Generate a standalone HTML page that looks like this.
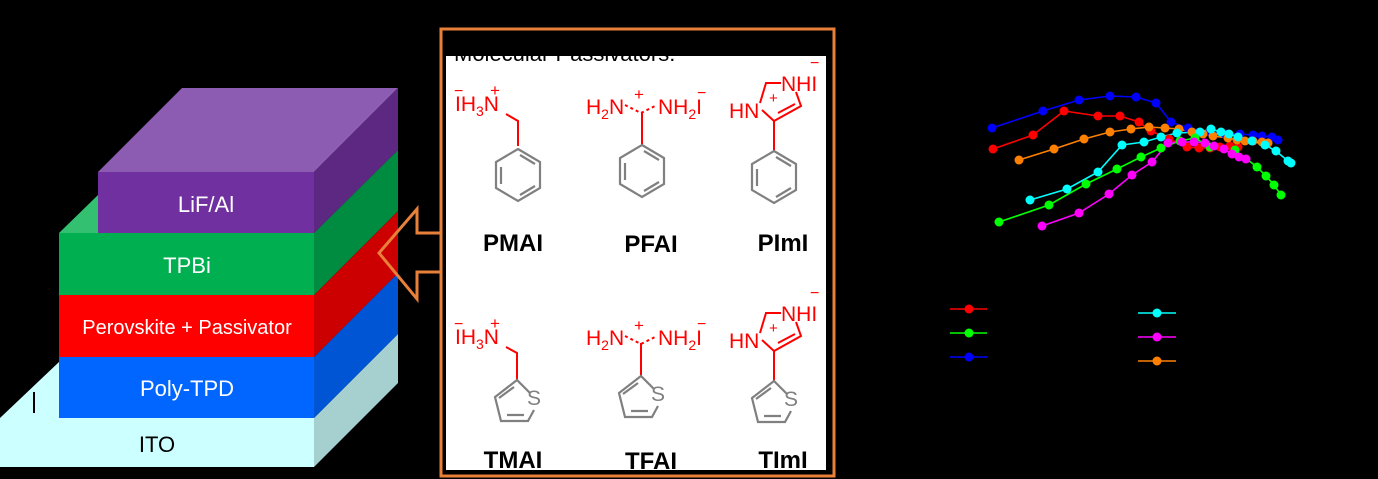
<!DOCTYPE html>
<html><head><meta charset="utf-8"><style>
html,body{margin:0;padding:0;background:#000;width:1378px;height:479px;overflow:hidden}
svg{display:block}
text{font-family:"Liberation Sans",Arial,sans-serif}
</style></head><body>
<svg width="1378" height="479" viewBox="0 0 1378 479" xmlns="http://www.w3.org/2000/svg">
<rect width="1378" height="479" fill="#000"/>
<polygon points="0,418 59,362 59,418" fill="#ccffff"/>
<polygon points="314,418 398,334 398,383 314,467" fill="#a6d0cf"/>
<rect x="0" y="418" width="314" height="49" fill="#ccffff"/>
<line x1="34" y1="392" x2="34" y2="413" stroke="#000" stroke-width="2"/>
<text x="157" y="452" font-size="22" text-anchor="middle" fill="#000">ITO</text>
<rect x="59" y="357" width="255" height="61" fill="#0066ff"/>
<polygon points="314,357 398,273 398,334 314,418" fill="#0055d4"/>
<text x="187" y="396" font-size="22" text-anchor="middle" fill="#fff">Poly-TPD</text>
<rect x="59" y="295" width="255" height="62" fill="#ff0000"/>
<polygon points="314,295 398,211 398,273 314,357" fill="#cc0000"/>
<text x="187" y="334" font-size="20" text-anchor="middle" fill="#fff">Perovskite + Passivator</text>
<rect x="59" y="233" width="255" height="62" fill="#00b050"/>
<polygon points="59,233 98,195 98,233" fill="#33c070"/>
<polygon points="314,233 398,150 398,211 314,295" fill="#008c40"/>
<text x="187" y="273" font-size="22" text-anchor="middle" fill="#fff">TPBi</text>
<polygon points="98,172 314,172 398,88 182,88" fill="#8c5cb2"/>
<rect x="98" y="172" width="216" height="61" fill="#7030a0"/>
<polygon points="314,172 398,88 398,150 314,233" fill="#5c2882"/>
<text x="206" y="212" font-size="22" text-anchor="middle" fill="#fff">LiF/Al</text>
<polygon points="441,233 417,233 417,209 379,253 417,299 417,272 441,272" fill="none" stroke="#e8803a" stroke-width="3"/>
<rect x="441" y="29" width="393" height="447" fill="#000" stroke="#e8803a" stroke-width="3"/>
<rect x="446" y="56" width="380" height="414" fill="#fff"/>
<clipPath id="c"><rect x="446" y="56" width="380" height="20"/></clipPath>
<text x="454" y="61" font-size="22" fill="#000" clip-path="url(#c)">Molecular Passivators:</text>
<g fill="#000" font-weight="bold" font-size="24" text-anchor="middle">
<text x="513" y="251">PMAI</text><text x="651" y="252">PFAI</text><text x="783" y="251">PImI</text>
<text x="513" y="468">TMAI</text><text x="651" y="469">TFAI</text><text x="783" y="468">TImI</text>
</g>
<g fill="#f00" font-size="21">
<text x="455" y="111">IH<tspan font-size="14" dy="5">3</tspan><tspan dy="-5">N</tspan></text>
<text x="454" y="96" font-size="16">−</text><text x="490" y="96" font-size="17">+</text>
<text x="586" y="114">H<tspan font-size="14" dy="5">2</tspan><tspan dy="-5">N</tspan></text>
<text x="658" y="114">NH<tspan font-size="14" dy="5">2</tspan><tspan dy="-5">I</tspan></text>
<text x="634" y="100" font-size="17">+</text><text x="697" y="98" font-size="16">−</text>
<text x="729" y="118">HN</text><text x="781" y="91">NHI</text>
<text x="769" y="103" font-size="15">+</text><text x="810" y="68" font-size="16">−</text>
</g>
<polyline points="506,114 518,121 518,146" fill="none" stroke="#f00" stroke-width="2"/>
<g fill="none" stroke="#808080" stroke-width="2.2">
<polygon points="518,149 540,162 540,188 518,201 496,188 496,162"/>
<line x1="501" y1="167" x2="501" y2="184"/><line x1="520" y1="155" x2="535" y2="164"/><line x1="520" y1="195" x2="535" y2="186"/>
</g>
<path d="M625,105 L641,113 L657,105" fill="none" stroke="#f00" stroke-width="2" stroke-dasharray="3,3"/>
<line x1="642" y1="112" x2="642" y2="145" stroke="#f00" stroke-width="2"/>
<g fill="none" stroke="#808080" stroke-width="2.2">
<polygon points="642,145 664,158 664,184 642,197 620,184 620,158"/>
<line x1="625" y1="163" x2="625" y2="180"/><line x1="644" y1="151" x2="659" y2="160"/><line x1="644" y1="191" x2="659" y2="182"/>
</g>
<polyline points="760,103 766,83 781,83" fill="none" stroke="#f00" stroke-width="2"/>
<polyline points="796,92 801,106 774,121 762,110" fill="none" stroke="#f00" stroke-width="2"/>
<line x1="778" y1="113" x2="795" y2="104" stroke="#f00" stroke-width="2"/>
<line x1="774" y1="121" x2="774" y2="151" stroke="#f00" stroke-width="2"/>
<g fill="none" stroke="#808080" stroke-width="2.2">
<polygon points="774,151 796,164 796,190 774,203 752,190 752,164"/>
<line x1="757" y1="169" x2="757" y2="186"/><line x1="776" y1="157" x2="791" y2="166"/><line x1="776" y1="197" x2="791" y2="188"/>
</g>
<g fill="#f00" font-size="21">
<text x="455" y="344">IH<tspan font-size="14" dy="5">3</tspan><tspan dy="-5">N</tspan></text>
<text x="454" y="329" font-size="16">−</text><text x="490" y="329" font-size="17">+</text>
<text x="586" y="345">H<tspan font-size="14" dy="5">2</tspan><tspan dy="-5">N</tspan></text>
<text x="658" y="345">NH<tspan font-size="14" dy="5">2</tspan><tspan dy="-5">I</tspan></text>
<text x="634" y="331" font-size="17">+</text><text x="697" y="329" font-size="16">−</text>
<text x="729" y="348">HN</text><text x="781" y="321">NHI</text>
<text x="769" y="333" font-size="15">+</text><text x="810" y="298" font-size="16">−</text>
</g>
<polyline points="506,347 517,353 517,380" fill="none" stroke="#f00" stroke-width="2"/>
<path d="M625,336 L641,344 L657,336" fill="none" stroke="#f00" stroke-width="2" stroke-dasharray="3,3"/>
<line x1="641" y1="343" x2="641" y2="376" stroke="#f00" stroke-width="2"/>
<polyline points="760,333 766,313 781,313" fill="none" stroke="#f00" stroke-width="2"/>
<polyline points="796,322 801,336 774,351 762,340" fill="none" stroke="#f00" stroke-width="2"/>
<line x1="778" y1="343" x2="795" y2="334" stroke="#f00" stroke-width="2"/>
<line x1="774" y1="351" x2="774" y2="381" stroke="#f00" stroke-width="2"/>
<g fill="none" stroke="#808080" stroke-width="2.2">
<path d="M530,393 L517,380 L495,397 L501,421 L528,421 L534,410"/><line x1="499" y1="398" x2="514" y2="387"/><line x1="507" y1="415" x2="524" y2="415"/>
<path d="M654,389 L641,376 L619,393 L625,417 L652,417 L658,406"/><line x1="623" y1="394" x2="638" y2="383"/><line x1="631" y1="411" x2="648" y2="411"/>
<path d="M787,394 L774,381 L752,398 L758,422 L785,422 L791,411"/><line x1="756" y1="399" x2="771" y2="388"/><line x1="764" y1="416" x2="781" y2="416"/>
</g>
<g fill="#808080" font-size="21"><text x="527" y="405">S</text><text x="651" y="401">S</text><text x="784" y="406">S</text></g>
<g fill="none" stroke-width="1.6">
<polyline stroke="#0000ff" points="992,128 1043,111 1079,100 1110,96 1136,97 1156,103 1171,122 1188,128 1210,132 1225,134 1240,134 1253,135 1262,136 1272,137 1278,140"/>
<polyline stroke="#ff0000" points="993,149 1033,135 1064,111 1098,116 1120,116 1139,122 1151,131 1169,139 1187,147 1199,148 1210,148 1220,147 1230,146 1238,147"/>
<polyline stroke="#ff8000" points="1019,160 1054,149 1084,139 1110,132 1131,129 1149,127 1165,128 1179,129 1192,132 1203,134 1213,136 1228,138 1237,140 1245,141 1253,141 1262,142 1268,143"/>
<polyline stroke="#00ffff" points="1030,200 1067,189 1098,172 1122,145 1144,142 1161,137 1177,133 1200,132 1211,129 1221,132 1229,134 1238,137 1252,141 1265,145 1276,151 1288,161 1291,163"/>
<polyline stroke="#00ff00" points="999,222 1049,205 1086,184 1117,169 1141,157 1161,148 1180,141 1195,138 1210,147 1235,150 1257,167 1266,176 1274,185 1281,195"/>
<polyline stroke="#ff00ff" points="1042,226 1079,213 1109,194 1132,175 1152,162 1168,143 1182,142 1194,142 1205,143 1214,146 1224,149 1232,154 1239,157 1246,159"/>
<line x1="950" y1="309" x2="987" y2="309" stroke="#ff0000"/>
<line x1="950" y1="333" x2="987" y2="333" stroke="#00ff00"/>
<line x1="950" y1="357" x2="987" y2="357" stroke="#0000ff"/>
<line x1="1138" y1="313" x2="1176" y2="313" stroke="#00ffff"/>
<line x1="1138" y1="337" x2="1176" y2="337" stroke="#ff00ff"/>
<line x1="1138" y1="361" x2="1176" y2="361" stroke="#ff8000"/>
</g>
<g fill="#0000ff"><circle cx="992" cy="128" r="4.5"/><circle cx="1043" cy="111" r="4.5"/><circle cx="1079" cy="100" r="4.5"/><circle cx="1110" cy="96" r="4.5"/><circle cx="1136" cy="97" r="4.5"/><circle cx="1156" cy="103" r="4.5"/><circle cx="1171" cy="122" r="4.5"/><circle cx="1188" cy="128" r="4.5"/><circle cx="1210" cy="132" r="4.5"/><circle cx="1225" cy="134" r="4.5"/><circle cx="1240" cy="134" r="4.5"/><circle cx="1253" cy="135" r="4.5"/><circle cx="1262" cy="136" r="4.5"/><circle cx="1272" cy="137" r="4.5"/><circle cx="1278" cy="140" r="4.5"/><circle cx="969" cy="357" r="4.5"/></g>
<g fill="#ff0000"><circle cx="993" cy="149" r="4.5"/><circle cx="1033" cy="135" r="4.5"/><circle cx="1064" cy="111" r="4.5"/><circle cx="1098" cy="116" r="4.5"/><circle cx="1120" cy="116" r="4.5"/><circle cx="1139" cy="122" r="4.5"/><circle cx="1151" cy="131" r="4.5"/><circle cx="1169" cy="139" r="4.5"/><circle cx="1187" cy="147" r="4.5"/><circle cx="1199" cy="148" r="4.5"/><circle cx="1210" cy="148" r="4.5"/><circle cx="1220" cy="147" r="4.5"/><circle cx="1230" cy="146" r="4.5"/><circle cx="1238" cy="147" r="4.5"/><circle cx="969" cy="309" r="4.5"/></g>
<g fill="#ff8000"><circle cx="1019" cy="160" r="4.5"/><circle cx="1054" cy="149" r="4.5"/><circle cx="1084" cy="139" r="4.5"/><circle cx="1110" cy="132" r="4.5"/><circle cx="1131" cy="129" r="4.5"/><circle cx="1149" cy="127" r="4.5"/><circle cx="1165" cy="128" r="4.5"/><circle cx="1179" cy="129" r="4.5"/><circle cx="1192" cy="132" r="4.5"/><circle cx="1203" cy="134" r="4.5"/><circle cx="1213" cy="136" r="4.5"/><circle cx="1228" cy="138" r="4.5"/><circle cx="1237" cy="140" r="4.5"/><circle cx="1245" cy="141" r="4.5"/><circle cx="1253" cy="141" r="4.5"/><circle cx="1262" cy="142" r="4.5"/><circle cx="1268" cy="143" r="4.5"/><circle cx="1157" cy="361" r="4.5"/></g>
<g fill="#00ffff"><circle cx="1030" cy="200" r="4.5"/><circle cx="1067" cy="189" r="4.5"/><circle cx="1098" cy="172" r="4.5"/><circle cx="1122" cy="145" r="4.5"/><circle cx="1144" cy="142" r="4.5"/><circle cx="1161" cy="137" r="4.5"/><circle cx="1177" cy="133" r="4.5"/><circle cx="1200" cy="132" r="4.5"/><circle cx="1211" cy="129" r="4.5"/><circle cx="1221" cy="132" r="4.5"/><circle cx="1229" cy="134" r="4.5"/><circle cx="1238" cy="137" r="4.5"/><circle cx="1252" cy="141" r="4.5"/><circle cx="1265" cy="145" r="4.5"/><circle cx="1276" cy="151" r="4.5"/><circle cx="1288" cy="161" r="4.5"/><circle cx="1291" cy="163" r="4.5"/><circle cx="1157" cy="313" r="4.5"/></g>
<g fill="#00ff00"><circle cx="999" cy="222" r="4.5"/><circle cx="1049" cy="205" r="4.5"/><circle cx="1086" cy="184" r="4.5"/><circle cx="1117" cy="169" r="4.5"/><circle cx="1141" cy="157" r="4.5"/><circle cx="1161" cy="148" r="4.5"/><circle cx="1180" cy="141" r="4.5"/><circle cx="1195" cy="138" r="4.5"/><circle cx="1210" cy="147" r="4.5"/><circle cx="1235" cy="150" r="4.5"/><circle cx="1257" cy="167" r="4.5"/><circle cx="1266" cy="176" r="4.5"/><circle cx="1274" cy="185" r="4.5"/><circle cx="1281" cy="195" r="4.5"/><circle cx="969" cy="333" r="4.5"/></g>
<g fill="#ff00ff"><circle cx="1042" cy="226" r="4.5"/><circle cx="1079" cy="213" r="4.5"/><circle cx="1109" cy="194" r="4.5"/><circle cx="1132" cy="175" r="4.5"/><circle cx="1152" cy="162" r="4.5"/><circle cx="1168" cy="143" r="4.5"/><circle cx="1182" cy="142" r="4.5"/><circle cx="1194" cy="142" r="4.5"/><circle cx="1205" cy="143" r="4.5"/><circle cx="1214" cy="146" r="4.5"/><circle cx="1224" cy="149" r="4.5"/><circle cx="1232" cy="154" r="4.5"/><circle cx="1239" cy="157" r="4.5"/><circle cx="1246" cy="159" r="4.5"/><circle cx="1157" cy="337" r="4.5"/></g>
</svg>
</body></html>
